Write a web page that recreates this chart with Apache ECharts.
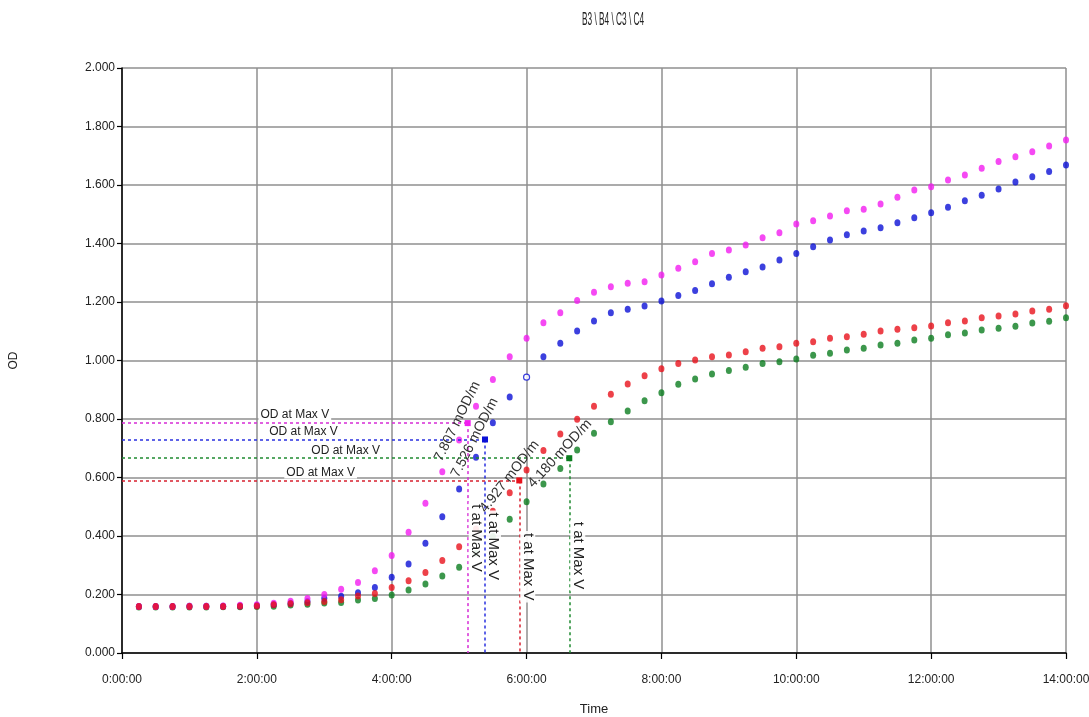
<!DOCTYPE html>
<html>
<head>
<meta charset="utf-8">
<script src="https://cdn.jsdelivr.net/npm/echarts@6/dist/echarts.min.js"></script>
<style>
  html, body { margin: 0; padding: 0; background: #fff; }
  #chart { width: 1089px; height: 717px; }
</style>
</head>
<body>
<div id="chart"></div>
<script>
// Reading times in minutes since start (15 min cycle)
const timesMin = [15, 30, 45, 60, 75, 90, 105, 120, 135, 150, 165, 180, 195, 210, 225, 240,
  255, 270, 285, 300, 315, 330, 345, 360, 375, 390, 405, 420, 435, 450, 465, 480,
  495, 510, 525, 540, 555, 570, 585, 600, 615, 630, 645, 660, 675, 690, 705, 720,
  735, 750, 765, 780, 795, 810, 825, 840];

// OD per well
const odB3 = [0.159, 0.159, 0.159, 0.160, 0.160, 0.161, 0.163, 0.165,
  0.170, 0.177, 0.186, 0.200, 0.218, 0.241, 0.281, 0.333,
  0.413, 0.512, 0.620, 0.728, 0.844, 0.935, 1.013, 1.076,
  1.129, 1.163, 1.205, 1.233, 1.252, 1.264, 1.269, 1.292,
  1.315, 1.338, 1.366, 1.378, 1.395, 1.420, 1.437, 1.467,
  1.478, 1.494, 1.512, 1.517, 1.535, 1.558, 1.583, 1.594,
  1.617, 1.634, 1.657, 1.680, 1.697, 1.714, 1.733, 1.754];
const odB4 = [0.159, 0.159, 0.159, 0.160, 0.160, 0.160, 0.161, 0.162,
  0.166, 0.170, 0.176, 0.187, 0.194, 0.206, 0.224, 0.259,
  0.304, 0.375, 0.466, 0.561, 0.669, 0.787, 0.875, 0.943,
  1.013, 1.059, 1.101, 1.135, 1.163, 1.175, 1.186, 1.203,
  1.222, 1.239, 1.262, 1.285, 1.303, 1.320, 1.344, 1.366,
  1.389, 1.412, 1.430, 1.443, 1.454, 1.471, 1.488, 1.505,
  1.524, 1.546, 1.565, 1.586, 1.610, 1.628, 1.646, 1.668];
const odC3 = [0.157, 0.157, 0.157, 0.157, 0.157, 0.158, 0.158, 0.159,
  0.160, 0.164, 0.167, 0.171, 0.173, 0.181, 0.186, 0.198,
  0.215, 0.236, 0.263, 0.293, 0.341, 0.398, 0.457, 0.517,
  0.578, 0.631, 0.694, 0.751, 0.791, 0.827, 0.862, 0.890,
  0.919, 0.937, 0.954, 0.966, 0.977, 0.990, 0.996, 1.005,
  1.018, 1.025, 1.036, 1.042, 1.053, 1.059, 1.070, 1.076,
  1.088, 1.094, 1.104, 1.110, 1.117, 1.128, 1.134, 1.146];
const odC4 = [0.159, 0.159, 0.159, 0.159, 0.159, 0.159, 0.160, 0.161,
  0.165, 0.168, 0.172, 0.176, 0.182, 0.195, 0.203, 0.224,
  0.247, 0.275, 0.316, 0.363, 0.424, 0.485, 0.548, 0.626,
  0.692, 0.749, 0.799, 0.844, 0.885, 0.920, 0.948, 0.972,
  0.990, 1.002, 1.013, 1.019, 1.030, 1.042, 1.047, 1.059,
  1.064, 1.076, 1.081, 1.090, 1.101, 1.107, 1.112, 1.118,
  1.129, 1.135, 1.146, 1.152, 1.159, 1.169, 1.175, 1.187];

// Kinetic analysis results, order: B3, B4, C3, C4
const wellNames = ['B3', 'B4', 'C3', 'C4'];
const maxVTimeMin = [307.6, 323.0, 398.0, 353.5];
const maxVOD = [0.786, 0.730, 0.666, 0.590];
const maxVRate = [7.807, 7.526, 4.180, 4.927]; // mOD/min

// Reading excluded from the fit (drawn hollow)
const excludedB4Min = 360;

const yTicks = { min: 0, max: 2, step: 0.2 };
const xTicks = { min: 0, max: 840, step: 120 };

const chartTitle = 'B3 \\ B4 \\ C3 \\ C4';

const dotColors = ['#f21cf0', '#0b10d6', '#0b7d1f', '#e8121c'];
const dashColors = ['#d62cd6', '#2a30e0', '#1f8a30', '#d8202f'];
const FONT = "'Liberation Sans', Arial, sans-serif";

const odSets = [odB3, odB4, odC3, odC4];

function fmtTime(m) {
  const h = Math.floor(m / 60), mm = Math.round(m % 60);
  return h + ':' + String(mm).padStart(2, '0') + ':00';
}

function buildSeries(angles) {
  // green below, red on top
  const drawOrder = [2, 1, 0, 3];
  return drawOrder.map(function (k) {
    const data = timesMin.map(function (t, i) {
      const item = { value: [t, odSets[k][i]] };
      if (k === 1 && t === excludedB4Min) {
        item.itemStyle = { color: '#ffffff', borderColor: dotColors[k], borderWidth: 1.2 };
        item.symbolSize = 6;
      }
      return item;
    });
    const t = maxVTimeMin[k], od = maxVOD[k];
    return {
      name: wellNames[k],
      type: 'scatter',
      symbol: 'circle',
      symbolSize: [6, 7],
      itemStyle: { color: dotColors[k] },
      data: data,
      animation: false,
      markLine: {
        silent: true,
        animation: false,
        symbol: ['none', 'none'],
        lineStyle: { color: dashColors[k], type: [3, 3], width: 1.5 },
        data: [
          [
            {
              coord: [0, od],
              label: {
                show: true, formatter: 'OD at Max V', position: 'insideMiddleTop', distance: 2,
                color: '#222', fontFamily: FONT, fontSize: 12,
                backgroundColor: '#ffffff', padding: [1, 2, 0, 2]
              }
            },
            { coord: [t, od] }
          ],
          [
            {
              coord: [t, od],
              label: {
                show: true, formatter: 't at Max V', position: 'insideMiddleTop', distance: 1,
                color: '#222', fontFamily: FONT, fontSize: 15,
                backgroundColor: 'rgba(255,255,255,0.9)', padding: [0, 2, 0, 2]
              }
            },
            { coord: [t, 0] }
          ]
        ]
      },
      markPoint: {
        silent: true,
        animation: false,
        data: [
          {
            coord: [t, od], symbol: 'rect', symbolSize: 6,
            itemStyle: { color: dotColors[k] }, label: { show: false }
          },
          {
            coord: [t, od], symbol: 'circle', symbolSize: 1,
            itemStyle: { color: 'rgba(0,0,0,0)' },
            label: {
              show: true, position: 'inside',
              formatter: maxVRate[k].toFixed(3) + ' mOD/m',
              rotate: angles[k], offset: [-3, -10],
              color: '#333', fontFamily: FONT, fontSize: 14
            }
          }
        ]
      }
    };
  });
}

const chart = echarts.init(document.getElementById('chart'), null, { renderer: 'canvas' });

const option = {
  backgroundColor: '#ffffff',
  animation: false,
  graphic: [{
    type: 'text',
    left: 582, top: 11,
    scaleX: 0.46,
    style: { text: chartTitle, font: '18px ' + FONT, fill: '#222' }
  }],
  grid: { left: 122, right: 23, top: 68, bottom: 64, containLabel: false, outerBoundsMode: 'none' },
  xAxis: {
    type: 'value',
    min: xTicks.min, max: xTicks.max, interval: xTicks.step,
    name: 'Time', nameLocation: 'middle', nameGap: 50,
    nameTextStyle: { fontFamily: FONT, fontSize: 13, color: '#222' },
    axisLine: { onZero: false, lineStyle: { color: '#000', width: 1.5 } },
    axisTick: { show: true, length: 6, lineStyle: { color: '#000', width: 1.2 } },
    axisLabel: { formatter: fmtTime, margin: 21, fontFamily: FONT, fontSize: 12, color: '#222' },
    splitLine: { show: true, lineStyle: { color: '#8f8f8f', width: 1.5 } }
  },
  yAxis: {
    type: 'value',
    min: yTicks.min, max: yTicks.max, interval: yTicks.step,
    name: 'OD', nameLocation: 'middle', nameGap: 102, nameRotate: 90,
    nameTextStyle: { fontFamily: FONT, fontSize: 12, color: '#222' },
    axisLine: { show: true, lineStyle: { color: '#000', width: 1.5 } },
    axisTick: { show: true, length: 5, lineStyle: { color: '#000', width: 1.2 } },
    axisLabel: { formatter: function (v) { return v.toFixed(3); }, margin: 7, fontFamily: FONT, fontSize: 12, color: '#222' },
    splitLine: { show: true, lineStyle: { color: '#8f8f8f', width: 1.5 } }
  },
  series: buildSeries([60, 60, 50, 50])
};

chart.setOption(option);

// Tilt each rate label along its tangent slope on screen
const p0 = chart.convertToPixel({ gridIndex: 0 }, [0, 0]);
const p1 = chart.convertToPixel({ gridIndex: 0 }, [60, 1]);
const pxPerMin = (p1[0] - p0[0]) / 60;
const pxPerOD = p0[1] - p1[1];
const angles = maxVRate.map(function (r) {
  return Math.atan((r / 1000) * pxPerOD / pxPerMin) * 180 / Math.PI;
});
chart.setOption({ series: buildSeries(angles) });
</script>
</body>
</html>
